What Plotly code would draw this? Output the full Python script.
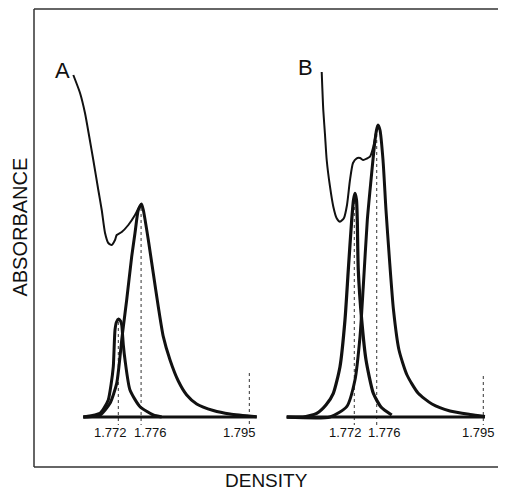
import plotly.graph_objects as go

# ---------------- data (density g/cm3, absorbance arbitrary units) ----------------
tick_vals = [1.772, 1.776, 1.795]
tick_text = ["1.772", "1.776", "1.795"]

# Panel A
a_total_x = [1.7641, 1.76528, 1.76615, 1.76691, 1.76761, 1.76849, 1.76909, 1.76967, 1.77024,
             1.77084, 1.77142, 1.77172, 1.7726, 1.77376, 1.77493, 1.77581, 1.77607]
a_total_y = [34.2, 32.4, 30.4, 28.0, 25.7, 22.7, 20.7, 18.4, 17.4,
             17.2, 17.7, 18.2, 18.5, 19.2, 20.2, 21.15, 21.3]

a_main_x = [1.76586, 1.76645, 1.76879, 1.77054, 1.77172, 1.7723, 1.7726, 1.77288, 1.77347, 1.77435,
            1.77493, 1.77551, 1.77607, 1.77639, 1.77727, 1.77814, 1.77902, 1.7799, 1.78108,
            1.78253, 1.78401, 1.78576, 1.78868, 1.79161, 1.7963]
a_main_y = [0.0, 0.0, 0.2, 1.37, 3.37, 6.03, 7.7, 9.03, 11.7, 16.03,
            18.4, 20.7, 21.3, 20.7, 17.7, 14.37, 11.03, 8.03, 5.7,
            3.6, 2.2, 1.3, 0.65, 0.3, 0.03]

a_minor_x = [1.76586, 1.76791, 1.76879, 1.76949, 1.77024, 1.77072, 1.77112, 1.77142, 1.77168,
             1.77204, 1.77239, 1.7726, 1.77288, 1.77318, 1.77405, 1.77581, 1.77814, 1.77962]
a_minor_y = [0.0, 0.2, 0.37, 0.9, 1.7, 3.2, 5.03, 8.7, 9.5,
             9.8, 9.6, 9.2, 7.2, 5.7, 2.7, 1.03, 0.2, 0.0]

a_peak_heights = [9.5, 20.9, 4.4]

# Panel B
b_total_x = [1.76619, 1.76647, 1.76678, 1.76708, 1.76767, 1.76826, 1.76886, 1.76945, 1.77016,
             1.7707, 1.77123, 1.77177, 1.77243, 1.77302, 1.7736, 1.77426, 1.7748, 1.77539,
             1.77587, 1.77623]
b_total_y = [34.5, 30.7, 28.2, 25.7, 23.03, 21.03, 19.87, 19.53, 19.9,
             21.2, 23.7, 25.4, 25.87, 25.9, 25.7, 25.85, 26.03, 27.03,
             28.4, 29.2]

b_main_x = [1.75995, 1.76767, 1.77065, 1.77212, 1.77302, 1.7736, 1.77432, 1.77498, 1.7756,
            1.77596, 1.77623, 1.77658, 1.77712, 1.77765, 1.77828, 1.77899, 1.77997, 1.7814,
            1.78336, 1.78585, 1.78906, 1.79263, 1.7953]
b_main_y = [0.0, 0.0, 1.03, 3.7, 8.03, 13.03, 19.7, 23.7, 27.2,
            28.7, 29.2, 28.7, 25.7, 20.7, 15.7, 10.7, 6.7, 4.2,
            2.4, 1.3, 0.6, 0.25, 0.05]

b_minor_x = [1.75995, 1.76285, 1.7653, 1.76695, 1.76826, 1.76945, 1.77034, 1.77093, 1.77154,
             1.77186, 1.77212, 1.77239, 1.77253, 1.77271, 1.77332, 1.77409, 1.77539, 1.77676,
             1.77867]
b_minor_y = [0.0, 0.0, 0.37, 1.2, 2.37, 5.03, 9.7, 14.7, 19.7,
             21.7, 22.37, 21.7, 19.7, 14.7, 9.7, 5.7, 2.37, 1.0,
             0.2]

b_peak_heights = [22.2, 28.9, 4.1]

panel_labels = ["A", "B"]
x_title = "DENSITY"
y_title = "ABSORBANCE"

# ---------------- figure ----------------
fig = go.Figure()
FONT = "Liberation Sans, Arial, sans-serif"
BLK = "#111111"

label_shift = {"x": [-8, 9, -10], "x2": [-9, 8, -5]}

for xa, heights in (("x", a_peak_heights), ("x2", b_peak_heights)):
    for tv, h in zip(tick_vals, heights):
        fig.add_trace(go.Scatter(x=[tv, tv], y=[h, -0.8], xaxis=xa, yaxis="y", mode="lines",
                                 line=dict(color="#333333", width=1, dash="3px,3px"),
                                 showlegend=False, hoverinfo="skip"))

def curve(x, y, xa, w):
    fig.add_trace(go.Scatter(x=x, y=y, xaxis=xa, yaxis="y", mode="lines",
                             line=dict(color=BLK, width=w, shape="spline", smoothing=0.6),
                             showlegend=False))

curve(a_minor_x, a_minor_y, "x", 3)
curve(a_main_x, a_main_y, "x", 3)
curve(a_total_x, a_total_y, "x", 2)
curve(b_minor_x, b_minor_y, "x2", 3.2)
curve(b_main_x, b_main_y, "x2", 3)
curve(b_total_x, b_total_y, "x2", 2)

# thick baselines
fig.add_trace(go.Scatter(x=[a_main_x[0], a_main_x[-1]], y=[0, 0], xaxis="x", yaxis="y",
                         mode="lines", line=dict(color=BLK, width=3.2), showlegend=False))
fig.add_trace(go.Scatter(x=[b_main_x[0], b_main_x[-1]], y=[0, 0], xaxis="x2", yaxis="y",
                         mode="lines", line=dict(color=BLK, width=3.2), showlegend=False))

annotations = []
for xa in ("x", "x2"):
    for tv, tt, sh in zip(tick_vals, tick_text, label_shift[xa]):
        annotations.append(dict(x=tv, y=-1.5, xref=xa, yref="y", text=tt, showarrow=False,
                                xshift=sh, xanchor="center", yanchor="middle",
                                font=dict(family=FONT, size=13, color=BLK)))

annotations.append(dict(x=1.76212, y=34.7, xref="x", yref="y", text=panel_labels[0],
                        showarrow=False, xanchor="center", yanchor="middle",
                        font=dict(family=FONT, size=22, color=BLK)))
annotations.append(dict(x=1.76321, y=35.0, xref="x2", yref="y", text=panel_labels[1],
                        showarrow=False, xanchor="center", yanchor="middle",
                        font=dict(family=FONT, size=22, color=BLK)))
annotations.append(dict(x=0.492, y=-0.0284, xref="paper", yref="paper", text=x_title,
                        showarrow=False, xanchor="center", yanchor="middle",
                        font=dict(family=FONT, size=19, color=BLK)))
annotations.append(dict(x=-0.0305, y=0.524, xref="paper", yref="paper", text=y_title,
                        showarrow=False, textangle=-90, xanchor="center", yanchor="middle",
                        font=dict(family=FONT, size=20, color=BLK)))

shapes = [
    dict(type="line", xref="paper", yref="paper", x0=0, x1=0, y0=0, y1=1,
         line=dict(color="#333333", width=1.5)),
    dict(type="line", xref="paper", yref="paper", x0=0, x1=1.02, y0=1, y1=1,
         line=dict(color="#333333", width=1.5)),
    dict(type="line", xref="paper", yref="paper", x0=0, x1=1.02, y0=0, y1=0,
         line=dict(color="#333333", width=1.5)),
]

axis_common = dict(showgrid=False, zeroline=False, showticklabels=False, ticks="", showline=False)
# page body has an 8px margin: the figure is sized so that its plot frame lands where the reference has it
fig.update_layout(
    width=498, height=483,
    margin=dict(l=26, r=0, t=1, b=24),
    paper_bgcolor="white", plot_bgcolor="white",
    xaxis=dict(domain=[0, 0.5], range=[1.7572, 1.79863], anchor="y", **axis_common),
    xaxis2=dict(domain=[0.5, 1], range=[1.75697, 1.79905], anchor="y", **axis_common),
    yaxis=dict(range=[-5.0, 40.8], **axis_common),
    annotations=annotations, shapes=shapes, showlegend=False,
)

fig.write_html("out.html")
